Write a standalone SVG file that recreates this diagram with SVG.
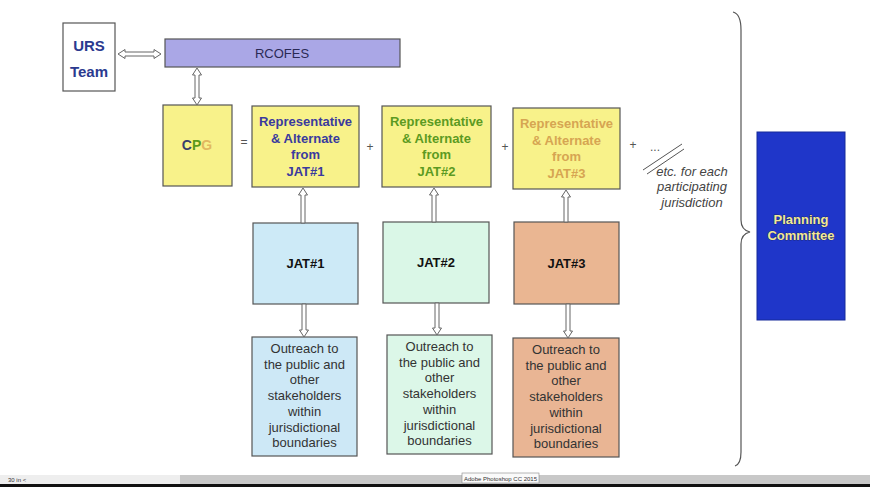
<svg xmlns="http://www.w3.org/2000/svg" width="870" height="487" viewBox="0 0 870 487">
<style>
.box{stroke:#555;stroke-width:1.2}
.ba{fill:#fff;stroke:#666;stroke-width:1}
.t{font-family:"Liberation Sans",Arial,sans-serif;text-anchor:middle}
.b{font-weight:bold}
.rep{font-size:13px;font-weight:bold}
.out{font-size:13px;fill:#333}
.jat{font-size:13px;font-weight:bold;fill:#111}
.sym{font-size:12px;fill:#555}
.etc{font-size:13px;font-style:italic;fill:#444}
</style>
<rect width="870" height="487" fill="#fff"/>

<g id="urs-team">
<rect class="box" x="63" y="23" width="52" height="68" fill="#fff"/>
<text class="t b" x="89" y="51" font-size="15" fill="#2b3a8f">URS</text>
<text class="t b" x="89" y="77" font-size="15" fill="#2b3a8f">Team</text>
</g>

<g id="rcofes">
<rect class="box" x="165" y="39" width="235" height="28" fill="#aaa7e6"/>
<text class="t" x="282" y="58" font-size="13" fill="#2a2a55">RCOFES</text>
</g>

<g id="cpg">
<rect class="box" x="163" y="105" width="69" height="81" fill="#f8f28a"/>
<text class="t b" x="197" y="150" font-size="14"><tspan fill="#3a3f6a">C</tspan><tspan fill="#5a9a1a">P</tspan><tspan fill="#e2b860">G</tspan></text>
</g>

<g id="rep1">
<rect class="box" x="252" y="106" width="107" height="81" fill="#f8f28a"/>
<text class="t rep" fill="#3a3a9e"><tspan x="305.5" y="126">Representative</tspan><tspan x="305.5" y="142.5">&amp; Alternate</tspan><tspan x="305.5" y="159">from</tspan><tspan x="305.5" y="175.5">JAT#1</tspan></text>
</g>

<g id="rep2">
<rect class="box" x="382" y="106" width="109" height="81" fill="#f8f28a"/>
<text class="t rep" fill="#5c9a22"><tspan x="436.5" y="126">Representative</tspan><tspan x="436.5" y="142.5">&amp; Alternate</tspan><tspan x="436.5" y="159">from</tspan><tspan x="436.5" y="175.5">JAT#2</tspan></text>
</g>

<g id="rep3">
<rect class="box" x="513" y="108" width="107" height="81" fill="#f8f28a"/>
<text class="t rep" fill="#d6a552"><tspan x="566.5" y="128">Representative</tspan><tspan x="566.5" y="144.5">&amp; Alternate</tspan><tspan x="566.5" y="161">from</tspan><tspan x="566.5" y="177.5">JAT#3</tspan></text>
</g>

<g id="operators">
<text class="t sym" x="244" y="146">=</text>
<text class="t sym" x="370" y="151">+</text>
<text class="t sym" x="505" y="151">+</text>
<text class="t sym" x="633" y="149">+</text>
<text class="t sym" x="655" y="151">...</text>
<line x1="643" y1="170" x2="682" y2="144" stroke="#555" stroke-width="1"/>
<line x1="647" y1="174" x2="684" y2="149" stroke="#555" stroke-width="1"/>
</g>

<g id="etc-note">
<text class="t etc"><tspan x="692" y="176">etc. for each</tspan><tspan x="692" y="191">participating</tspan><tspan x="692" y="207">jurisdiction</tspan></text>
</g>

<g id="jat1">
<rect class="box" x="253" y="223" width="105" height="81" fill="#cdeaf7"/>
<text class="t jat" x="305.5" y="268">JAT#1</text>
</g>
<g id="jat2">
<rect class="box" x="383" y="222" width="106" height="81" fill="#daf7e7"/>
<text class="t jat" x="436" y="267">JAT#2</text>
</g>
<g id="jat3">
<rect class="box" x="514" y="222" width="105" height="82" fill="#eab692"/>
<text class="t jat" x="566.5" y="268">JAT#3</text>
</g>

<g id="outreach1">
<rect class="box" x="252" y="337" width="105" height="119" fill="#cde8f6"/>
<text class="t out"><tspan x="304.5" y="353">Outreach to</tspan><tspan x="304.5" y="368.7">the public and</tspan><tspan x="304.5" y="384.4">other</tspan><tspan x="304.5" y="400.1">stakeholders</tspan><tspan x="304.5" y="415.8">within</tspan><tspan x="304.5" y="431.5">jurisdictional</tspan><tspan x="304.5" y="447.2">boundaries</tspan></text>
</g>
<g id="outreach2">
<rect class="box" x="387" y="335" width="105" height="119" fill="#dcf7e8"/>
<text class="t out"><tspan x="439.5" y="351">Outreach to</tspan><tspan x="439.5" y="366.7">the public and</tspan><tspan x="439.5" y="382.4">other</tspan><tspan x="439.5" y="398.1">stakeholders</tspan><tspan x="439.5" y="413.8">within</tspan><tspan x="439.5" y="429.5">jurisdictional</tspan><tspan x="439.5" y="445.2">boundaries</tspan></text>
</g>
<g id="outreach3">
<rect class="box" x="513" y="338" width="106" height="119" fill="#e9b594"/>
<text class="t out"><tspan x="566" y="354">Outreach to</tspan><tspan x="566" y="369.7">the public and</tspan><tspan x="566" y="385.4">other</tspan><tspan x="566" y="401.1">stakeholders</tspan><tspan x="566" y="416.8">within</tspan><tspan x="566" y="432.5">jurisdictional</tspan><tspan x="566" y="448.2">boundaries</tspan></text>
</g>

<g id="planning-committee">
<rect x="757" y="132" width="88" height="188" fill="#1f36c9" stroke="#162a9a" stroke-width="1"/>
<text class="t b" font-size="13" fill="#f1e99a" stroke="#1a1a1a" stroke-width="0.5" paint-order="stroke"><tspan x="801" y="224">Planning</tspan><tspan x="801" y="240">Committee</tspan></text>
</g>

<g id="connectors">
<path class="ba" d="M118,54 L125,49.5 L125,52 L154,52 L154,49.5 L161,54 L154,58.5 L154,56 L125,56 L125,58.5 Z"/>
<path class="ba" d="M197,68 L201.5,75 L199,75 L199,98 L201.5,98 L197,105 L192.5,98 L195,98 L195,75 L192.5,75 Z"/>
<path class="ba" d="M303,188 L307.5,195 L305,195 L305,223 L301,223 L301,195 L298.5,195 Z"/>
<path class="ba" d="M434,188 L438.5,195 L436,195 L436,222 L432,222 L432,195 L429.5,195 Z"/>
<path class="ba" d="M566,190 L570.5,197 L568,197 L568,222 L564,222 L564,197 L561.5,197 Z"/>
<path class="ba" d="M304,337 L308.5,330 L306,330 L306,304 L302,304 L302,330 L299.5,330 Z"/>
<path class="ba" d="M437,335 L441.5,328 L439,328 L439,303 L435,303 L435,328 L432.5,328 Z"/>
<path class="ba" d="M568,338 L572.5,331 L570,331 L570,304 L566,304 L566,331 L563.5,331 Z"/>
<path d="M733,12 Q741,14 741,30 L741,220 Q741,230 750,232 Q741,234 741,244 L741,452 Q741,464 735,466" fill="none" stroke="#555" stroke-width="1.2"/>
</g>

<g id="status-bar">
<rect x="0" y="475" width="870" height="9" fill="#c8c8c8"/>
<rect x="0" y="475" width="180" height="9" fill="#eeeeee"/>
<rect x="0" y="484" width="870" height="3" fill="#111"/>
<text x="8" y="482" font-family="Liberation Sans,sans-serif" font-size="6" fill="#333">30 in   &lt;</text>
<rect x="462" y="473" width="77" height="10" fill="#fafafa" stroke="#888" stroke-width="0.6"/>
<text x="500.5" y="480.5" font-family="Liberation Sans,sans-serif" font-size="6" fill="#333" text-anchor="middle">Adobe Photoshop CC 2015</text>
</g>
</svg>
